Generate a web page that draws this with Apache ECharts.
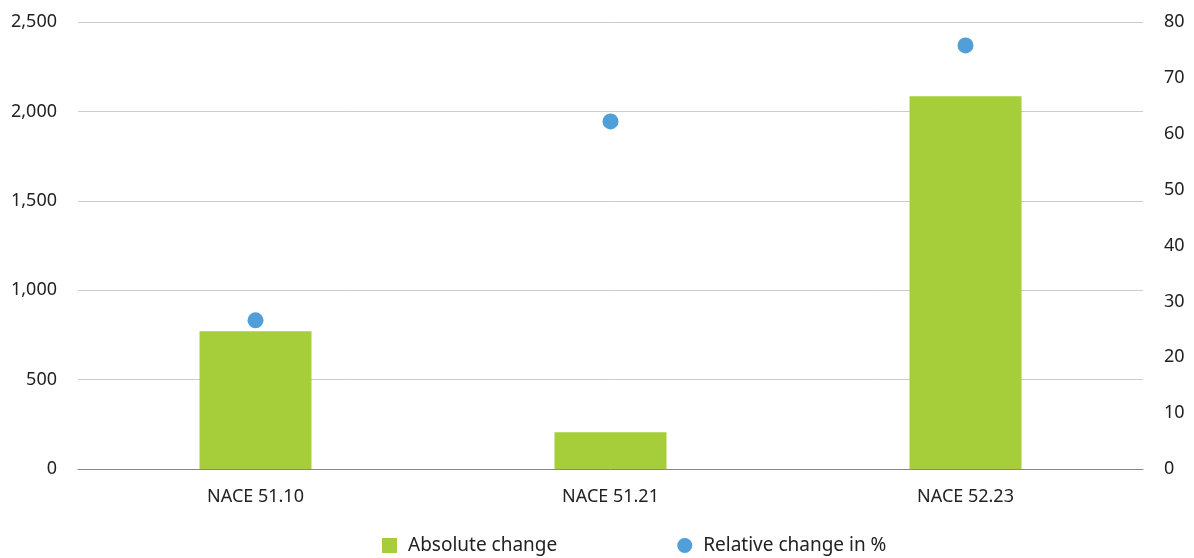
<!DOCTYPE html>
<html>
<head>
<meta charset="utf-8">
<script src="https://cdn.jsdelivr.net/npm/echarts@6/dist/echarts.min.js"></script>
<style>html,body{margin:0;padding:0;background:#fff;}#c{width:1194px;height:558px;}</style>
</head>
<body>
<div id="c"></div>
<script>
const categories = ['NACE 51.10', 'NACE 51.21', 'NACE 52.23'];
const absoluteChange = [770, 205, 2085];
const relativeChange = [26.6, 62.2, 75.8];
const leftTicks = [0, 500, 1000, 1500, 2000, 2500];
const rightTicks = [0, 10, 20, 30, 40, 50, 60, 70, 80];

const chart = echarts.init(document.getElementById('c'));
const font = '"Noto Sans", sans-serif';
chart.setOption({
  animation: false,
  textStyle: { fontFamily: font },
  grid: { left: 78, right: 51, top: 22, bottom: 89, containLabel: false },
  legend: {
    top: 531,
    left: 377,
    itemGap: 120,
    itemWidth: 15,
    itemHeight: 15,
    textStyle: { fontSize: 19, color: '#222', fontFamily: font, padding: [0, 0, 0, 6] },
    data: [
      { name: 'Absolute change', icon: 'rect' },
      { name: 'Relative change in %', icon: 'circle' }
    ]
  },
  xAxis: {
    type: 'category',
    data: categories,
    axisLine: { lineStyle: { color: '#888', width: 1 } },
    axisTick: { show: false },
    axisLabel: { color: '#222', fontSize: 18, margin: 19, fontFamily: font }
  },
  yAxis: [
    {
      type: 'value', min: 0, max: 2500, interval: 500,
      axisLine: { show: false }, axisTick: { show: false },
      splitLine: { lineStyle: { color: '#cccccc', width: 1 } },
      axisLabel: {
        color: '#222', fontSize: 18, margin: 21, fontFamily: font,
        formatter: v => v.toLocaleString('en-US')
      }
    },
    {
      type: 'value', min: 0, max: 80, interval: 10, position: 'right',
      axisLine: { show: false }, axisTick: { show: false },
      splitLine: { show: false },
      axisLabel: { color: '#222', fontSize: 18, margin: 21, fontFamily: font }
    }
  ],
  series: [
    {
      name: 'Absolute change', type: 'bar', data: absoluteChange,
      barWidth: 112, itemStyle: { color: '#A6CD3A' }, yAxisIndex: 0
    },
    {
      name: 'Relative change in %', type: 'scatter', data: relativeChange,
      yAxisIndex: 1, symbol: 'circle', symbolSize: 16,
      itemStyle: { color: '#519FD8', opacity: 1 }
    }
  ]
});
</script>
</body>
</html>
